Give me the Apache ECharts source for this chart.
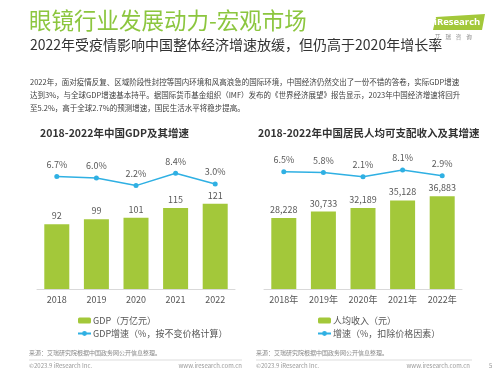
<!DOCTYPE html>
<html>
<head>
<meta charset="utf-8">
<script src="https://cdn.jsdelivr.net/npm/echarts@6/dist/echarts.min.js"></script>
<style>
  html, body { margin: 0; padding: 0; background: #fff; }
  #main { width: 500px; height: 375px; }
</style>
</head>
<body>
<div id="main"></div>
<script>
// 数据
var years = ['2018', '2019', '2020', '2021', '2022'];
var yearsCn = ['2018年', '2019年', '2020年', '2021年', '2022年'];
var gdp = [92, 99, 101, 115, 121];
var gdpGrowth = [6.7, 6.0, 2.2, 8.4, 3.0];
var income = [28228, 30733, 32189, 35128, 36883];
var incomeGrowth = [6.5, 5.8, 2.1, 8.1, 2.9];

var green = '#a3c83a';
var blue = '#2fb0e3';
var font = '"Noto Sans CJK SC", "Noto Sans", sans-serif';

var chart = echarts.init(document.getElementById('main'));

var catAxis = function (grid, data, show) {
    return {
        type: 'category',
        gridIndex: grid,
        data: data,
        show: show,
        axisLine: { lineStyle: { color: '#d9d9d9', width: 1 } },
        axisTick: { show: false },
        axisLabel: { color: '#555', fontSize: 9, fontFamily: font, margin: 6 }
    };
};
var valAxis = function (grid, max) {
    return { type: 'value', gridIndex: grid, min: 0, max: max, show: false, splitLine: { show: false } };
};
var numLabel = function (p) {
    return p.value.toLocaleString('en-US');
};
var pctLabel = function (p) {
    return p.value.toFixed(1) + '%';
};

chart.setOption({
    animation: false,
    textStyle: { fontFamily: font },
    grid: [
        { left: 37, width: 198, top: 148, height: 141 },
        { left: 37, width: 198, top: 160, height: 30 },
        { left: 264, width: 198, top: 148, height: 141 },
        { left: 264, width: 198, top: 151, height: 28 }
    ],
    xAxis: [
        catAxis(0, years, true),
        catAxis(1, years, false),
        catAxis(2, yearsCn, true),
        catAxis(3, yearsCn, false)
    ],
    yAxis: [
        valAxis(0, 200),
        valAxis(1, 15),
        valAxis(2, 56000),
        valAxis(3, 25)
    ],
    legend: [
        {
            orient: 'vertical', left: 72, top: 311, itemGap: 4,
            itemWidth: 13, itemHeight: 6,
            textStyle: { color: '#555', fontSize: 9, padding: [0, 0, 0, -3] },
            data: ['GDP（万亿元）', 'GDP增速（%，按不变价格计算）']
        },
        {
            orient: 'vertical', left: 312, top: 311, itemGap: 4,
            itemWidth: 13, itemHeight: 6,
            textStyle: { color: '#555', fontSize: 9, padding: [0, 0, 0, -3] },
            data: ['人均收入（元）', '增速（%，扣除价格因素）']
        }
    ],
    series: [
        {
            name: 'GDP（万亿元）', type: 'bar', xAxisIndex: 0, yAxisIndex: 0,
            data: gdp, barWidth: 25, itemStyle: { color: green },
            label: { show: true, position: 'top', color: '#595959', fontSize: 9, distance: 4 }
        },
        {
            name: 'GDP增速（%，按不变价格计算）', type: 'line', xAxisIndex: 1, yAxisIndex: 1,
            data: gdpGrowth, symbol: 'circle', symbolSize: 5,
            lineStyle: { color: blue, width: 1.5 }, itemStyle: { color: blue },
            label: { show: true, position: 'top', color: '#595959', fontSize: 9, distance: 5, formatter: pctLabel }
        },
        {
            name: '人均收入（元）', type: 'bar', xAxisIndex: 2, yAxisIndex: 2,
            data: income, barWidth: 25, itemStyle: { color: green },
            label: { show: true, position: 'top', color: '#595959', fontSize: 9, distance: 4, formatter: numLabel }
        },
        {
            name: '增速（%，扣除价格因素）', type: 'line', xAxisIndex: 3, yAxisIndex: 3,
            data: incomeGrowth, symbol: 'circle', symbolSize: 5,
            lineStyle: { color: blue, width: 1.5 }, itemStyle: { color: blue },
            label: { show: true, position: 'top', color: '#595959', fontSize: 9, distance: 5, formatter: pctLabel }
        }
    ],
    graphic: [
        // 标题
        { type: 'text', left: 29, top: 9, style: { text: '眼镜行业发展动力-宏观市场', fill: '#8cc63f', fontSize: 22.5, fontFamily: font } },
        { type: 'text', left: 30, top: 38, style: { text: '2022年受疫情影响中国整体经济增速放缓，但仍高于2020年增长率', fill: '#333', fontSize: 14, fontFamily: font } },
        { type: 'text', left: 30, top: 76, style: {
            text: '2022年，面对疫情反复、区域阶段性封控等国内环境和风高浪急的国际环境，中国经济仍然交出了一份不错的答卷，实际GDP增速\n达到3%，与全球GDP增速基本持平。据国际货币基金组织（IMF）发布的《世界经济展望》报告显示，2023年中国经济增速将回升\n至5.2%，高于全球2.7%的预测增速，国民生活水平将稳步提高。',
            fill: '#404040', fontSize: 7.5, lineHeight: 13, fontFamily: font } },
        // logo
        { type: 'polygon', shape: { points: [[436, 17], [485, 14], [482, 30], [433, 30]] }, style: { fill: '#a3c83a' } },
        { type: 'text', left: 434, top: 17, style: { text: 'iResearch', fill: '#fff', fontSize: 9.5, fontWeight: 'bold', fontFamily: 'Open Sans' } },
        { type: 'text', left: 435, top: 34, style: { text: '艾    瑞    咨    询', fill: '#888', fontSize: 5.5, fontFamily: font } },
        // 图表标题
        { type: 'text', left: 40, top: 128, style: { text: '2018-2022年中国GDP及其增速', fill: '#333', fontSize: 10.5, fontWeight: 'bold', fontFamily: font } },
        { type: 'text', left: 258, top: 128, style: { text: '2018-2022年中国居民人均可支配收入及其增速', fill: '#333', fontSize: 10.5, fontWeight: 'bold', fontFamily: font } },
        // 页脚
        { type: 'text', left: 29, top: 350, style: { text: '来源：艾瑞研究院根据中国政务网公开信息整理。', fill: '#888', fontSize: 6, fontFamily: font } },
        { type: 'text', left: 256, top: 350, style: { text: '来源：艾瑞研究院根据中国政务网公开信息整理。', fill: '#888', fontSize: 6, fontFamily: font } },
        { type: 'line', shape: { x1: 29, y1: 360, x2: 242, y2: 360 }, style: { stroke: '#ddd', lineWidth: 1 } },
        { type: 'line', shape: { x1: 256, y1: 360, x2: 472, y2: 360 }, style: { stroke: '#ddd', lineWidth: 1 } },
        { type: 'text', left: 29, top: 363, style: { text: '©2023.9 iResearch Inc.', fill: '#999', fontSize: 6, fontFamily: font } },
        { type: 'text', right: 258, top: 363, style: { text: 'www.iresearch.com.cn', fill: '#999', fontSize: 6, fontFamily: font } },
        { type: 'text', left: 256, top: 363, style: { text: '©2023.9 iResearch Inc.', fill: '#999', fontSize: 6, fontFamily: font } },
        { type: 'text', right: 30, top: 363, style: { text: 'www.iresearch.com.cn', fill: '#999', fontSize: 6, fontFamily: font } },
        { type: 'text', left: 489, top: 363, style: { text: '5', fill: '#999', fontSize: 6, fontFamily: font } }
    ]
});
</script>
</body>
</html>
